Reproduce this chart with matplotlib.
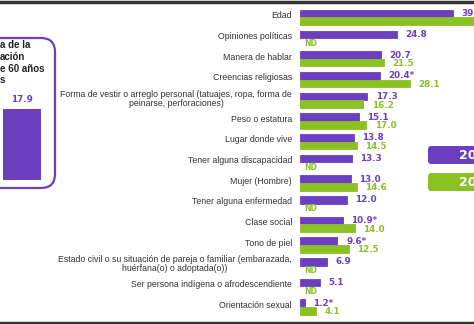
import numpy as np
import matplotlib.pyplot as plt
from matplotlib.patches import FancyBboxPatch

# datos por motivo de discriminacion (%)
categorias = [
    'Edad',
    'Opiniones políticas',
    'Manera de hablar',
    'Creencias religiosas',
    'Forma de vestir o arreglo personal (tatuajes, ropa, forma de\npeinarse, perforaciones)',
    'Peso o estatura',
    'Lugar donde vive',
    'Tener alguna discapacidad',
    'Mujer (Hombre)',
    'Tener alguna enfermedad',
    'Clase social',
    'Tono de piel',
    'Estado civil o su situación de pareja o familiar (embarazada,\nhuérfana(o) o adoptada(o))',
    'Ser persona indígena o afrodescendiente',
    'Orientación sexual',
]
v2022 = [39.2, 24.8, 20.7, 20.4, 17.3, 15.1, 13.8, 13.3, 13.0, 12.0, 10.9, 9.6, 6.9, 5.1, 1.2]
sig2022 = [False, False, False, True, False, False, False, False, False, False, True, True, False, False, True]
v2017 = [46.0, np.nan, 21.5, 28.1, 16.2, 17.0, 14.5, np.nan, 14.6, np.nan, 14.0, 12.5, np.nan, np.nan, 4.1]
total_60 = 17.9
anios = ['2022', '2017']

morado = '#6B3FC0'
verde = '#8CC124'
gris = '#333333'

W, H = 474, 324
fig = plt.figure(figsize=(W / 100, H / 100), dpi=100)

# capa de fondo en pixeles
bg = fig.add_axes([0, 0, 1, 1])
bg.set_xlim(0, W)
bg.set_ylim(H, 0)
bg.axis('off')

bg.plot([0, W], [1.5, 1.5], color=gris, lw=2.5)
bg.plot([0, W], [322.5, 322.5], color=gris, lw=2.5)

# recuadro izquierdo
bg.add_patch(FancyBboxPatch((-30, 38), 85, 150,
                            boxstyle='round,pad=0,rounding_size=14',
                            fc='white', ec=morado, lw=1.6))
for y, t in zip([45, 57, 68.5, 80], ['a de la', 'ación', 'e 60 años', 's']):
    bg.text(0, y, t, ha='left', va='center', fontsize=7, fontweight='bold',
            family='Liberation Sans', color='#222222')

# leyenda
for y, c, t in zip([146, 173], [morado, verde], anios):
    bg.add_patch(FancyBboxPatch((428, y), 70, 18,
                                boxstyle='round,pad=0,rounding_size=3',
                                fc=c, ec='none'))
    bg.text(459, y + 9.5, t, ha='left', va='center', fontsize=9,
            fontweight='bold', family='DejaVu Sans', color='white')

# barra del total 60 anios y mas
ax2 = fig.add_axes([3 / W, (H - 180) / H, 38 / W, 71 / H])
ax2.bar([0], [total_60], width=1, color=morado)
ax2.set_xlim(-0.5, 0.5)
ax2.set_ylim(0, total_60)
ax2.axis('off')
ax2.text(0, total_60 + 1.2, f'{total_60:.1f}', ha='center', va='bottom',
         fontsize=6.3, fontweight='bold', color=morado, clip_on=False)

# grafica principal
px = 3.9
ax = fig.add_axes([300 / W, 0, 1 - 300 / W, 1])
ax.set_xlim(0, (W - 300) / px)
step = 20.7
ax.set_ylim(14 + (H - 307) / step, -17.5 / step)
ax.axis('off')

y = np.arange(len(categorias))
h = 0.37
v17 = np.array(v2017)
ok = ~np.isnan(v17)
ax.barh(y - h / 2, v2022, height=h, color=morado, ec=morado, lw=0.6, joinstyle='round')
ax.barh(y[ok] + h / 2, v17[ok], height=h, color=verde, ec=verde, lw=0.6,
        joinstyle='round')

for i, cat in enumerate(categorias):
    ax.text(-8 / px, i - 0.08, cat, ha='right', va='center', multialignment='center',
            fontsize=6.3, family='Liberation Sans', color=gris, linespacing=1.0)
    lab = f'{v2022[i]:.1f}' + ('*' if sig2022[i] else '')
    ax.text(v2022[i] + 2.2, i - h / 2, lab, ha='left', va='center', fontsize=6.3,
            fontweight='bold', color=morado, clip_on=False)
    if np.isnan(v2017[i]):
        ax.text(1.2, i + h / 2 + 0.05, 'ND', ha='left', va='center', fontsize=5.5,
                fontweight='bold', color=verde)
    else:
        ax.text(v2017[i] + 2.2, i + h / 2 + 0.05, f'{v2017[i]:.1f}', ha='left',
                va='center', fontsize=6.3, fontweight='bold', color=verde, clip_on=False)

fig.savefig('out.png', dpi=100)
